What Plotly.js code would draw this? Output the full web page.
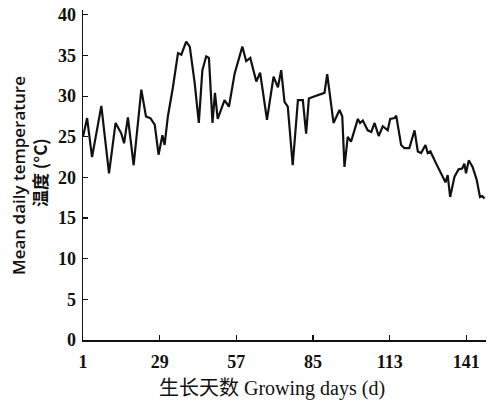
<!DOCTYPE html>
<html>
<head>
<meta charset="utf-8">
<script src="https://cdn.plot.ly/plotly-3.0.1.min.js"></script>
<style>html,body{margin:0;padding:0;background:#fff;}#chart{width:492px;height:403px;}</style>
</head>
<body>
<div id="chart"></div>
<script>
const days = [1,2.5,4.3,7.7,10.5,12.9,15,16,17.4,19.5,22.3,24,25.6,27.2,28.6,30,30.8,32,33.8,35.7,36.9,38.7,40,41.8,43.3,44.6,46,47,48.3,49.2,50.2,52.7,54.3,56.4,59.2,60.6,62.1,64.3,65.7,68.2,70.6,72.2,73.4,74.6,75.8,77.6,79.5,81.3,82.5,83.5,84.9,87.4,89.2,90.2,91.3,92.5,94.7,95.7,96.5,97.7,98.9,101.4,102.2,103.2,105,106.3,107.5,109,110.5,112.3,113.2,114.8,115.4,117.2,118.4,120.2,122.1,123.3,124.5,126.1,126.9,127.9,130,132.4,133.4,134.2,135.1,136.7,138.2,139.5,140.3,140.9,141.9,143.3,144.8,146,146.8,147.7];
const temps = [25,27.3,22.5,28.8,20.5,26.7,25.4,24.2,27.4,21.5,30.8,27.5,27.3,26.5,22.8,25.2,24,27.5,31,35.3,35.1,36.7,36.1,31.6,26.7,33.2,34.9,34.7,26.7,30.4,27.2,29.5,28.7,32.8,36.1,34.3,34.7,31.8,32.9,27.1,32.4,31.1,33.2,29.3,28.7,21.5,29.5,29.5,25.4,29.7,29.9,30.2,30.4,32.7,29.5,26.7,28.3,27.5,21.3,25,24.4,27.2,26.7,27,25.8,25.6,26.7,25.1,26.3,25.8,27.2,27.3,27.6,24,23.6,23.6,25.8,23.2,23,24,23,23.2,21.7,20.1,19.4,20.3,17.6,20.1,21,21.1,21.7,20.5,22.1,21.3,19.7,17.6,17.7,17.4];
const xTicks = [1,29,57,85,113,141];
const yTicks = [0,5,10,15,20,25,30,35,40];
const xTitle = "生长天数 Growing days (d)";
const yTitleEn = "Mean daily temperature";
const yTitleZh = "温度 (°C)";

const trace = {
  x: days, y: temps, type: 'scatter', mode: 'lines',
  line: {color: '#111', width: 2.2}
};
const tickFont = {family: 'Liberation Serif, serif', size: 18, color: '#111', weight: 'bold'};
const layout = {
  width: 492, height: 403,
  margin: {l: 83, r: 6, t: 10, b: 63},
  paper_bgcolor: '#fff', plot_bgcolor: '#fff',
  showlegend: false,
  xaxis: {
    range: [1, 148.2], tickvals: xTicks, ticktext: xTicks.map(String),
    ticks: 'inside', ticklen: 5, tickwidth: 1.2, tickcolor: '#111',
    showline: true, linecolor: '#111', linewidth: 1.5, showgrid: false, zeroline: false,
    tickfont: tickFont, ticklabelstandoff: 5
  },
  yaxis: {
    range: [0, 40.6], tickvals: yTicks,
    ticks: 'inside', ticklen: 5, tickwidth: 1.2, tickcolor: '#111',
    showline: true, linecolor: '#111', linewidth: 1.5, showgrid: false, zeroline: false,
    tickfont: tickFont, ticklabelstandoff: 2
  },
  annotations: [
    {text: xTitle, xref: 'paper', yref: 'paper', x: 0.4685, y: -0.1455,
     xanchor: 'center', yanchor: 'middle', showarrow: false,
     font: {family: 'Liberation Serif, Noto Sans CJK SC, serif', size: 20, color: '#111'}},
    {text: yTitleEn, xref: 'paper', yref: 'paper', x: 0, y: 0.497, xshift: -64,
     xanchor: 'center', yanchor: 'middle', textangle: -90, showarrow: false,
     font: {family: 'Open Sans, sans-serif', size: 17, color: '#111', weight: 600}},
    {text: yTitleZh, xref: 'paper', yref: 'paper', x: 0, y: 0.506, xshift: -44,
     xanchor: 'center', yanchor: 'middle', textangle: -90, showarrow: false,
     font: {family: 'Noto Sans CJK SC, sans-serif', size: 17, color: '#111', weight: 'bold'}}
  ]
};
Plotly.newPlot('chart', [trace], layout, {displayModeBar: false, staticPlot: true});
</script>
</body>
</html>
